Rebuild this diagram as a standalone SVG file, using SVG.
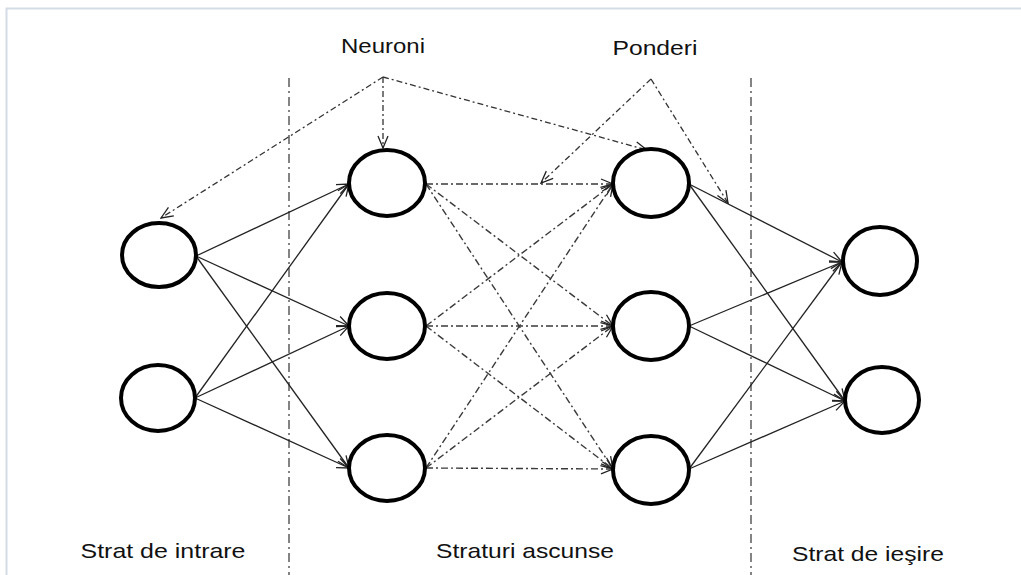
<svg xmlns="http://www.w3.org/2000/svg" width="1021" height="575" viewBox="0 0 1021 575">
  <style>
    .node { fill: #ffffff; stroke: #000000; stroke-width: 4; }
    .solid { stroke: #222222; stroke-width: 1.3; fill: none; marker-end: url(#arrow); }
    .dashed { stroke: #3a3a3a; stroke-width: 1.4; fill: none; stroke-dasharray: 7 3 2 3; marker-end: url(#arrow); }
    .pointer { stroke: #333333; stroke-width: 1.3; fill: none; stroke-dasharray: 6 3 2 3; marker-end: url(#arrow); }
    .divider { stroke: #333333; stroke-width: 1.2; fill: none; stroke-dasharray: 9 4 2 4; }
    .label { font-family: "Liberation Sans", "DejaVu Sans", sans-serif; font-size: 21px; fill: #111111; }
  </style>
  <defs>
    <marker id="arrow" viewBox="0 0 14 12" refX="13" refY="6" markerWidth="14" markerHeight="12" markerUnits="userSpaceOnUse" orient="auto">
      <path d="M1,1 L13,6 L1,11" fill="none" stroke="#222222" stroke-width="1.3"/>
    </marker>
  </defs>

  <!-- frame -->
  <rect x="0" y="0" width="1021" height="575" fill="#ffffff"/>
  <path d="M6.5,575 L6.5,8.5 L1021,8.5" fill="none" stroke="#d5dbe6" stroke-width="2"/>

  <!-- layer dividers -->
  <g id="dividers">
    <line class="divider" x1="289" y1="78" x2="289" y2="575"/>
    <line class="divider" x1="751" y1="78" x2="751" y2="575"/>
  </g>

  <!-- connectors -->
  <g id="connectors">
    <!-- input -> hidden 1 -->
    <line class="solid" x1="196" y1="256" x2="349" y2="184"/>
    <line class="solid" x1="196" y1="256" x2="349" y2="326"/>
    <line class="solid" x1="196" y1="256" x2="349" y2="468"/>
    <line class="solid" x1="195" y1="398" x2="349" y2="184"/>
    <line class="solid" x1="195" y1="398" x2="349" y2="326"/>
    <line class="solid" x1="195" y1="398" x2="349" y2="468"/>
    <!-- hidden 1 -> hidden 2 -->
    <line class="dashed" x1="426" y1="184" x2="613" y2="184"/>
    <line class="dashed" x1="426" y1="184" x2="613" y2="326"/>
    <line class="dashed" x1="426" y1="184" x2="613" y2="469"/>
    <line class="dashed" x1="426" y1="326" x2="613" y2="184"/>
    <line class="dashed" x1="426" y1="326" x2="613" y2="326"/>
    <line class="dashed" x1="426" y1="326" x2="613" y2="469"/>
    <line class="dashed" x1="426" y1="468" x2="613" y2="184"/>
    <line class="dashed" x1="426" y1="468" x2="613" y2="326"/>
    <line class="dashed" x1="426" y1="468" x2="613" y2="469"/>
    <!-- hidden 2 -> output -->
    <line class="solid" x1="689" y1="184" x2="842" y2="262"/>
    <line class="solid" x1="689" y1="184" x2="845" y2="401"/>
    <line class="solid" x1="689" y1="326" x2="842" y2="262"/>
    <line class="solid" x1="689" y1="326" x2="845" y2="401"/>
    <line class="solid" x1="689" y1="469" x2="842" y2="262"/>
    <line class="solid" x1="689" y1="469" x2="845" y2="401"/>
    <!-- annotation pointers -->
    <line class="pointer" x1="383" y1="77" x2="161" y2="218"/>
    <line class="pointer" x1="383" y1="77" x2="383" y2="148"/>
    <line class="pointer" x1="383" y1="77" x2="647" y2="150"/>
    <line class="pointer" x1="651" y1="79" x2="541" y2="183"/>
    <line class="pointer" x1="651" y1="79" x2="728" y2="203"/>
  </g>

  <!-- input layer -->
  <g id="input-1"><ellipse class="node" cx="159" cy="255" rx="37" ry="32"/></g>
  <g id="input-2"><ellipse class="node" cx="158" cy="398" rx="37" ry="33"/></g>

  <!-- hidden layer 1 -->
  <g id="hidden1-1"><ellipse class="node" cx="387" cy="183" rx="38" ry="33"/></g>
  <g id="hidden1-2"><ellipse class="node" cx="387" cy="326" rx="38" ry="33"/></g>
  <g id="hidden1-3"><ellipse class="node" cx="387" cy="468" rx="38" ry="33"/></g>

  <!-- hidden layer 2 -->
  <g id="hidden2-1"><ellipse class="node" cx="651" cy="183" rx="38" ry="34"/></g>
  <g id="hidden2-2"><ellipse class="node" cx="651" cy="326" rx="38" ry="34"/></g>
  <g id="hidden2-3"><ellipse class="node" cx="651" cy="470" rx="38" ry="34"/></g>

  <!-- output layer -->
  <g id="output-1"><ellipse class="node" cx="880" cy="261" rx="37" ry="34"/></g>
  <g id="output-2"><ellipse class="node" cx="882" cy="400" rx="37" ry="33"/></g>

  <!-- labels -->
  <g id="labels">
    <text class="label" x="383" y="53" text-anchor="middle" textLength="84" lengthAdjust="spacingAndGlyphs">Neuroni</text>
    <text class="label" x="655" y="55" text-anchor="middle" textLength="85" lengthAdjust="spacingAndGlyphs">Ponderi</text>
    <text class="label" x="163" y="558" text-anchor="middle" textLength="165" lengthAdjust="spacingAndGlyphs">Strat de intrare</text>
    <text class="label" x="525" y="558" text-anchor="middle" textLength="178" lengthAdjust="spacingAndGlyphs">Straturi ascunse</text>
    <text class="label" x="868" y="561" text-anchor="middle" textLength="152" lengthAdjust="spacingAndGlyphs">Strat de ieşire</text>
  </g>
</svg>
